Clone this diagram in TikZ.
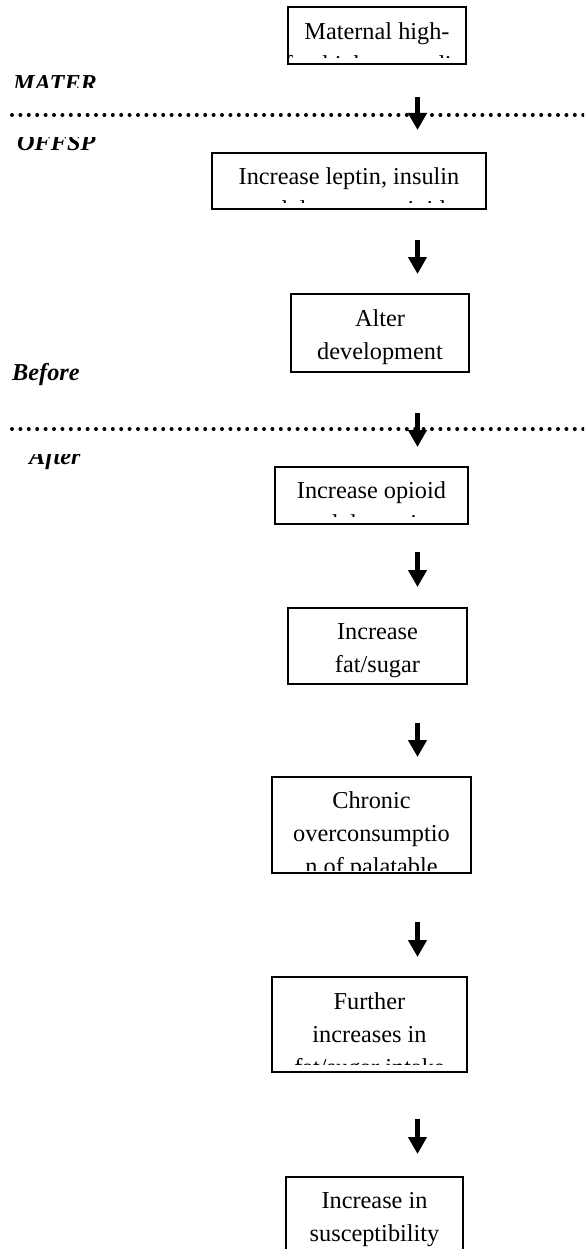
\documentclass[tikz,border=0pt]{standalone}
\usepackage{fontspec}
\setmainfont{Liberation Serif}
\usetikzlibrary{arrows.meta}
\tikzset{
  flowbox/.style={draw=black, line width=1.2pt, inner sep=0pt, outer sep=0pt, anchor=north west},
  boxtext/.style={inner sep=0pt, text width=260pt, align=flush center, anchor=base, font=\fontsize{24.3}{33}\selectfont},
  sidelabel/.style={inner sep=0pt, anchor=base west, font=\fontsize{24.3}{29}\selectfont\bfseries\itshape},
  divider/.style={line width=4pt, line cap=round, dash pattern=on 0pt off 8.4pt},
  blockarrow/.style={line width=5.5pt, -{Triangle[width=18pt,length=17pt]}},
}
% #1 name, #2 x1, #3 y1, #4 x2, #5 y2, #6 clip bottom, #7 first baseline, #8 text
\newcommand{\flowbox}[8]{%
  \begin{scope}
    \clip (#2,#3) rectangle (#4,#6);
    \node[boxtext] (#1t) at ({(#2+#4)/2},#7) {#8};
  \end{scope}
  \node[flowbox, minimum width={#4-#2}, minimum height={#5-#3}] (#1) at (#2,#3) {};
}
\begin{document}
\begin{tikzpicture}[x=1pt,y=-1pt]
\clip (0,0) rectangle (584,1249);
\fill[white] (0,0) rectangle (584,1249);

% dividers
\coordinate (d1l) at (12,115);
\coordinate (d1r) at (590,115);
\coordinate (d2l) at (12,429);
\coordinate (d2r) at (590,429);
\draw[divider] (d1l) -- (d1r);
\draw[divider] (d2l) -- (d2r);

% side labels
\begin{scope}
  \clip (0,60) rectangle (130,88);
  \node[sidelabel] (lmater) at (13,92) {MATER};
\end{scope}
\begin{scope}
  \clip (0,138) rectangle (130,170);
  \node[sidelabel] (loffsp) at (17,151) {OFFSP};
\end{scope}
\node[sidelabel] (lbefore) at (12,380) {Before};
\begin{scope}
  \clip (0,454) rectangle (130,480);
  \node[sidelabel] (lafter) at (29,464) {After};
\end{scope}

% boxes
\flowbox{b1}{288}{7}{466}{64}{58}{40}{Maternal high-\\fat, high-sugar diet}
\flowbox{b2}{212}{153}{486}{209}{203}{185}{Increase leptin, insulin\\and decrease opioid}
\flowbox{b3}{291}{294}{469}{372}{370}{326}{Alter\\development}
\flowbox{b4}{275}{467}{468}{524}{516}{498}{Increase opioid\\and dopamine}
\flowbox{b5}{288}{608}{467}{684}{682}{639}{Increase\\fat/sugar}
\flowbox{b6}{272}{777}{471}{873}{870}{808}{Chronic\\overconsumptio\\n of palatable}
\flowbox{b7}{272}{977}{467}{1072}{1064}{1009}{Further\\increases in\\fat/sugar intake}
\flowbox{b8}{286}{1177}{463}{1300}{1300}{1208}{Increase in\\susceptibility}

% arrows
\coordinate (a1s) at (417.5,97);   \coordinate (a1e) at (417.5,130);
\coordinate (a2s) at (417.5,240);  \coordinate (a2e) at (417.5,274);
\coordinate (a3s) at (417.5,413);  \coordinate (a3e) at (417.5,447);
\coordinate (a4s) at (417.5,552);  \coordinate (a4e) at (417.5,587);
\coordinate (a5s) at (417.5,723);  \coordinate (a5e) at (417.5,757);
\coordinate (a6s) at (417.5,922);  \coordinate (a6e) at (417.5,957);
\coordinate (a7s) at (417.5,1119); \coordinate (a7e) at (417.5,1154);
\foreach \i in {1,...,7}{\draw[blockarrow] (a\i s) -- (a\i e);}
\end{tikzpicture}
\end{document}
